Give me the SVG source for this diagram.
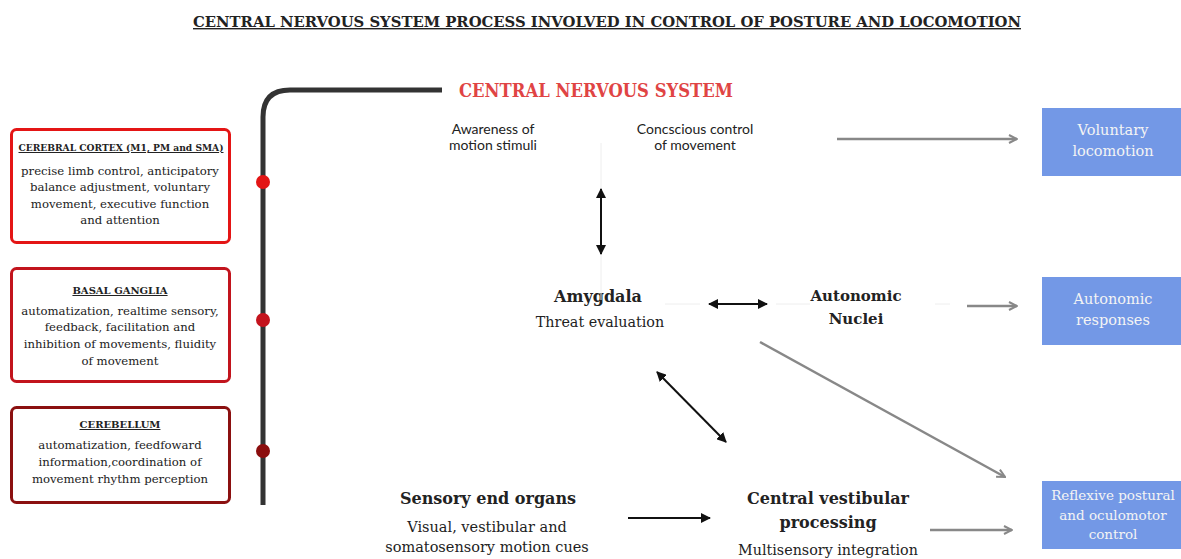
<svg xmlns="http://www.w3.org/2000/svg" width="1181" height="559" viewBox="0 0 1181 559">
<defs>
<style>
.serif{font-family:"DejaVu Serif","Liberation Serif",serif;fill:#222}
.sans{font-family:Lato,"Liberation Sans",sans-serif;fill:#222;font-size:14px}
.bold{font-weight:bold}
.mid{text-anchor:middle}
.box{fill:#fff;stroke-width:3}
.blue{fill:#7398e6}
.wt{font-family:"DejaVu Serif","Liberation Serif",serif;fill:#f4f4f4;font-size:14.5px;text-anchor:middle}
.blk{stroke:#111;stroke-width:2;fill:none}
.gry{stroke:#888;stroke-width:2.5;fill:none}
.faint{stroke:#eee;stroke-width:1;fill:none}
</style>
<marker id="ab" viewBox="0 0 10 10" refX="9" refY="5" markerWidth="5" markerHeight="5" orient="auto-start-reverse"><path d="M0,0 L10,5 L0,10 z" fill="#111"/></marker>
<marker id="ag" viewBox="0 0 10 10" refX="9" refY="5" markerWidth="4" markerHeight="4" orient="auto"><path d="M1,1 L9,5 L1,9" fill="none" stroke="#888" stroke-width="2"/></marker>
</defs>
<rect width="1181" height="559" fill="#fff"/>
<g id="title">
<text class="serif bold mid" x="607" y="27" font-size="14" textLength="828" lengthAdjust="spacingAndGlyphs" text-decoration="underline">CENTRAL NERVOUS SYSTEM PROCESS INVOLVED IN CONTROL OF POSTURE AND LOCOMOTION</text>
</g>
<g id="cns">
<path d="M263,505 V117 Q263,90 290,90 H442" fill="none" stroke="#333" stroke-width="5"/>
<circle cx="263" cy="182" r="7" fill="#e31515"/>
<circle cx="263" cy="320" r="7" fill="#c4131d"/>
<circle cx="263" cy="451" r="7" fill="#8b0d0d"/>
<text class="serif bold" x="459" y="97" font-size="18" style="fill:#e04444" textLength="274" lengthAdjust="spacingAndGlyphs">CENTRAL NERVOUS SYSTEM</text>
</g>
<g id="cortex">
<rect class="box" x="11.5" y="129.5" width="218" height="113" rx="5" stroke="#e41515"/>
<text class="serif bold mid" x="121" y="151" font-size="10" textLength="205" lengthAdjust="spacingAndGlyphs" text-decoration="underline">CEREBRAL CORTEX (M1, PM and SMA)</text>
<text class="serif mid" font-size="11.7"><tspan x="120" y="175">precise limb control, anticipatory</tspan><tspan x="120" y="191">balance adjustment, voluntary</tspan><tspan x="120" y="208">movement, executive function</tspan><tspan x="120" y="224">and attention</tspan></text>
</g>
<g id="basal">
<rect class="box" x="11.5" y="268.5" width="218" height="113" rx="5" stroke="#c2141d"/>
<text class="serif bold mid" x="120" y="294" font-size="10" text-decoration="underline">BASAL GANGLIA</text>
<text class="serif mid" font-size="11.7"><tspan x="120" y="315">automatization, realtime sensory,</tspan><tspan x="120" y="331">feedback, facilitation and</tspan><tspan x="120" y="348">inhibition of movements, fluidity</tspan><tspan x="120" y="365">of movement</tspan></text>
</g>
<g id="cerebellum">
<rect class="box" x="11.5" y="407.5" width="218" height="95" rx="5" stroke="#8b1010"/>
<text class="serif bold mid" x="120" y="428" font-size="10" text-decoration="underline">CEREBELLUM</text>
<text class="serif mid" font-size="11.7"><tspan x="120" y="449">automatization, feedfoward</tspan><tspan x="120" y="466">information,coordination of</tspan><tspan x="120" y="483">movement rhythm perception</tspan></text>
</g>
<g id="awareness">
<text class="sans mid"><tspan x="493" y="134">Awareness of</tspan><tspan x="493" y="150">motion stimuli</tspan></text>
</g>
<g id="conscious">
<text class="sans mid"><tspan x="695" y="134">Concscious control</tspan><tspan x="695" y="150">of movement</tspan></text>
</g>
<g id="amygdala">
<text class="serif bold mid" x="598" y="302" font-size="16">Amygdala</text>
<text class="serif mid" x="600" y="327" font-size="14.3">Threat evaluation</text>
</g>
<g id="autonomic-nuclei">
<text class="serif bold mid" font-size="15"><tspan x="856" y="301">Autonomic</tspan><tspan x="856" y="324">Nuclei</tspan></text>
</g>
<g id="sensory">
<text class="serif bold mid" x="488" y="504" font-size="16">Sensory end organs</text>
<text class="serif mid" font-size="14.5"><tspan x="487" y="532">Visual, vestibular and</tspan><tspan x="487" y="552">somatosensory motion cues</tspan></text>
</g>
<g id="vestibular">
<text class="serif bold mid" font-size="16"><tspan x="828" y="504">Central vestibular</tspan><tspan x="828" y="528">processing</tspan></text>
<text class="serif mid" x="828" y="555" font-size="14.3">Multisensory integration</text>
</g>
<g id="voluntary">
<rect class="blue" x="1042" y="108" width="139" height="68"/>
<text class="wt"><tspan x="1113" y="135">Voluntary</tspan><tspan x="1113" y="156">locomotion</tspan></text>
</g>
<g id="autonomic-responses">
<rect class="blue" x="1042" y="277" width="139" height="68"/>
<text class="wt"><tspan x="1113" y="304">Autonomic</tspan><tspan x="1113" y="325">responses</tspan></text>
</g>
<g id="reflexive">
<rect class="blue" x="1042" y="481" width="139" height="68"/>
<text class="wt" style="font-size:13.5px"><tspan x="1113" y="500">Reflexive postural</tspan><tspan x="1113" y="520">and oculomotor</tspan><tspan x="1113" y="539">control</tspan></text>
</g>
<g id="connectors">
<path class="faint" d="M601,143 V300 M665,304 H700 M776,304 H810 M935,304 H950"/>
<path class="blk" d="M601,189 V254" marker-start="url(#ab)" marker-end="url(#ab)"/>
<path class="blk" d="M709,304 H767" marker-start="url(#ab)" marker-end="url(#ab)"/>
<path class="blk" d="M657,372 L726,442" marker-start="url(#ab)" marker-end="url(#ab)"/>
<path class="blk" d="M628,518 H710" marker-end="url(#ab)"/>
<path class="gry" d="M837,139 H1017" marker-end="url(#ag)"/>
<path class="gry" d="M967,306 H1017" marker-end="url(#ag)"/>
<path class="gry" d="M760,342 L1005,477" marker-end="url(#ag)"/>
<path class="gry" d="M930,530 H1012" marker-end="url(#ag)"/>
</g>
</svg>
